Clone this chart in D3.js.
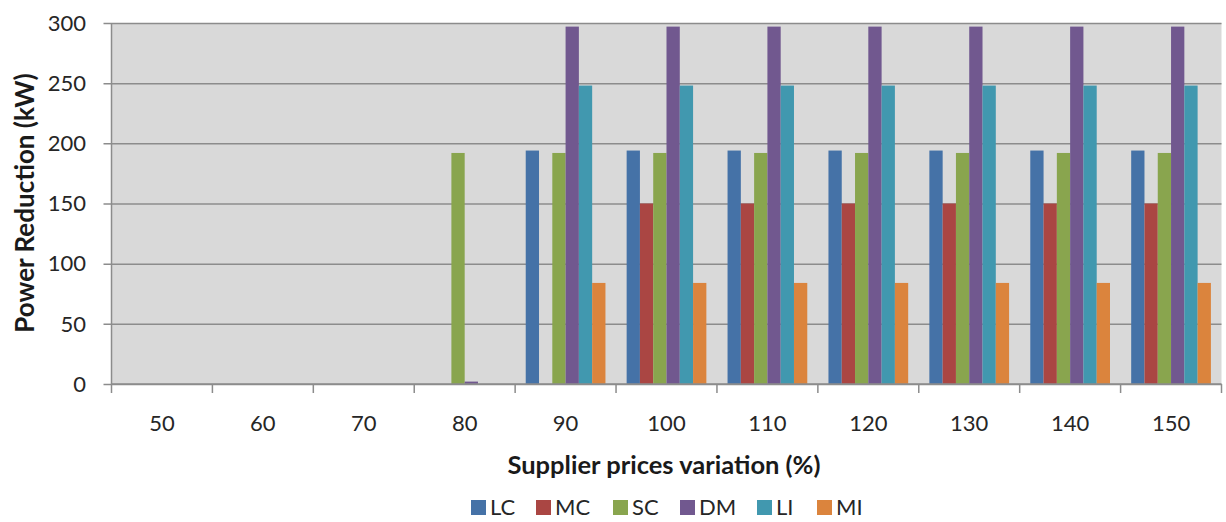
<!DOCTYPE html>
<html>
<head>
<meta charset="utf-8">
<script src="https://cdn.jsdelivr.net/npm/d3@7"></script>
<style>
  html, body { margin: 0; padding: 0; background: #fff; }
  svg { display: block; font-family: Lato, "Open Sans", sans-serif; }
</style>
</head>
<body>
<svg id="chart" width="1226" height="522"></svg>
<script>
// Supplier price variation categories (%)
const categories = ["50", "60", "70", "80", "90", "100", "110", "120", "130", "140", "150"];
const seriesNames = ["LC", "MC", "SC", "DM", "LI", "MI"];
const seriesColors = ["#4572a7", "#aa4643", "#89a54e", "#71588f", "#4198af", "#db843d"];

// Power reduction (kW) per series, one value per category
const LC = [0, 0, 0, 0, 194, 194, 194, 194, 194, 194, 194];
const MC = [0, 0, 0, 0, 0, 150, 150, 150, 150, 150, 150];
const SC = [0, 0, 0, 192, 192, 192, 192, 192, 192, 192, 192];
const DM = [0, 0, 0, 2, 297, 297, 297, 297, 297, 297, 297];
const LI = [0, 0, 0, 0, 248, 248, 248, 248, 248, 248, 248];
const MI = [0, 0, 0, 0, 84, 84, 84, 84, 84, 84, 84];
const seriesValues = [LC, MC, SC, DM, LI, MI];

const yTicks = [0, 50, 100, 150, 200, 250, 300];

const svg = d3.select("#chart");
const plot = { left: 111.5, right: 1221.5, top: 23, bottom: 384 };

const x0 = d3.scaleBand().domain(categories).range([plot.left, plot.right]).padding(0);
const x1 = d3.scaleBand().domain(seriesNames)
  .range([x0.bandwidth() * 0.105, x0.bandwidth() * 0.895]).padding(0);
const y = d3.scaleLinear().domain([0, 300]).range([plot.bottom, plot.top]);

// plot background
svg.append("rect")
  .attr("x", plot.left).attr("y", plot.top)
  .attr("width", plot.right - plot.left).attr("height", plot.bottom - plot.top)
  .attr("fill", "#d9d9d9");

// horizontal gridlines with short tick stubs on the left
svg.append("g")
  .attr("transform", `translate(${plot.left},0)`)
  .call(d3.axisLeft(y).tickValues(yTicks).tickSize(-(plot.right - plot.left)).tickSizeOuter(0).tickFormat(""))
  .call(g => g.select(".domain").remove())
  .call(g => g.selectAll("line").attr("stroke", "#8c8c8c").attr("stroke-width", 1.5)
    .attr("x1", -8));

// y tick labels
svg.append("g")
  .selectAll("text")
  .data(yTicks)
  .join("text")
  .attr("x", 86)
  .attr("y", d => y(d))
  .attr("dy", "0.35em")
  .attr("text-anchor", "end")
  .attr("font-size", 22)
  .attr("fill", "#262626")
  .text(d => d);

// bars
const groups = svg.append("g")
  .selectAll("g")
  .data(categories)
  .join("g")
  .attr("transform", d => `translate(${x0(d)},0)`);

groups.selectAll("rect")
  .data((c, i) => seriesNames.map((s, k) => ({ s, k, v: seriesValues[k][i] })))
  .join("rect")
  .filter(d => d.v > 0)
  .attr("x", d => x1(d.s))
  .attr("width", x1.bandwidth())
  .attr("y", d => y(d.v))
  .attr("height", d => y(0) - y(d.v))
  .attr("fill", d => seriesColors[d.k]);

// left axis line
svg.append("line")
  .attr("x1", plot.left).attr("x2", plot.left)
  .attr("y1", plot.top).attr("y2", plot.bottom)
  .attr("stroke", "#8c8c8c").attr("stroke-width", 1.5);

// bottom axis with ticks at category boundaries
const xAxis = svg.append("g");
xAxis.append("line")
  .attr("x1", plot.left).attr("x2", plot.right)
  .attr("y1", plot.bottom).attr("y2", plot.bottom)
  .attr("stroke", "#8c8c8c").attr("stroke-width", 1.5);
xAxis.selectAll("line.tick")
  .data(categories.concat(["end"]))
  .join("line")
  .attr("class", "tick")
  .attr("x1", (d, i) => plot.left + i * x0.step())
  .attr("x2", (d, i) => plot.left + i * x0.step())
  .attr("y1", plot.bottom).attr("y2", plot.bottom + 9)
  .attr("stroke", "#8c8c8c").attr("stroke-width", 1.5);
xAxis.selectAll("text")
  .data(categories)
  .join("text")
  .attr("x", d => x0(d) + x0.bandwidth() / 2)
  .attr("y", 423)
  .attr("dy", "0.35em")
  .attr("text-anchor", "middle")
  .attr("font-size", 22)
  .attr("fill", "#262626")
  .text(d => d);

// axis titles
svg.append("text")
  .attr("x", 664).attr("y", 465)
  .attr("dy", "0.35em")
  .attr("text-anchor", "middle")
  .attr("font-size", 25.5).attr("font-weight", "bold")
  .attr("fill", "#1a1a1a")
  .text("Supplier prices variation (%)");

svg.append("text")
  .attr("transform", "translate(25,203) rotate(-90)")
  .attr("dy", "0.35em")
  .attr("text-anchor", "middle")
  .attr("font-size", 26).attr("font-weight", "bold")
  .attr("fill", "#1a1a1a")
  .text("Power Reduction (kW)");

// legend
const legendX = [471, 536, 613, 680, 757, 817];
const legend = svg.append("g")
  .selectAll("g")
  .data(seriesNames)
  .join("g")
  .attr("transform", (d, i) => `translate(${legendX[i]},500)`);
legend.append("rect")
  .attr("width", 15).attr("height", 15)
  .attr("fill", (d, i) => seriesColors[i]);
legend.append("text")
  .attr("x", 19).attr("y", 7.5)
  .attr("dy", "0.35em")
  .attr("font-size", 22)
  .attr("fill", "#262626")
  .text(d => d);
</script>
</body>
</html>
